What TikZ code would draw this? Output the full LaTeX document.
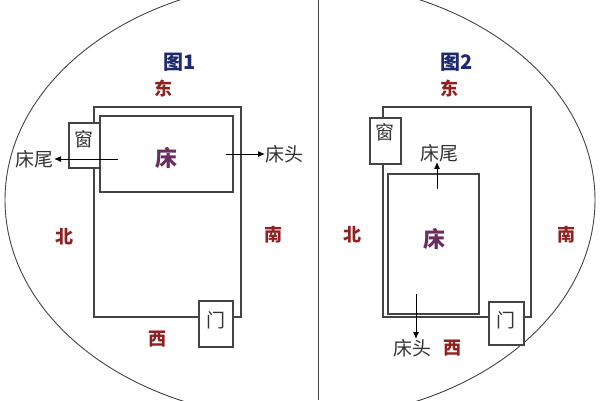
\documentclass[tikz,border=0pt]{standalone}
\usepackage{fontspec}
\newfontfamily\cjk{Noto Sans CJK SC}
\usetikzlibrary{arrows.meta}
\definecolor{dirred}{HTML}{8E2222}
\definecolor{titleblue}{HTML}{1E2A6E}
\definecolor{bedpurple}{HTML}{6A2E5E}
\definecolor{wallgray}{HTML}{444444}
\definecolor{txtgray}{HTML}{333333}
\tikzset{
  wall/.style={draw=wallgray, line width=1.5pt},
  boxw/.style={draw=wallgray, line width=1.5pt, fill=white},
  lbl/.style={inner sep=0pt, text=txtgray, font=\cjk\fontsize{19}{19}\selectfont},
  dirlbl/.style={inner sep=0pt, text=dirred, font=\cjk\bfseries\fontsize{18}{18}\selectfont},
  title/.style={inner sep=0pt, text=titleblue, font=\cjk\bfseries\fontsize{20}{20}\selectfont},
  bedlbl/.style={inner sep=0pt, text=bedpurple, font=\cjk\bfseries\fontsize{22}{22}\selectfont},
  arr/.style={draw=black, line width=1pt, -{Latex[length=7pt,width=6pt]}},
}
\begin{document}
\begin{tikzpicture}[x=1pt,y=-1pt]
\useasboundingbox (0,0) rectangle (600,400);
\fill[white] (0,0) rectangle (600,400);
% outer ellipse and divider
\draw[draw=wallgray, line width=0.9pt] (300,200) ellipse [x radius=295, y radius=219];
\draw[draw=wallgray, line width=0.9pt] (318,0) -- (318,400);

% ===== Figure 1 =====
\draw[wall] (94,107) rectangle (241,317);
\draw[boxw] (100,116) rectangle (233,192);
\draw[boxw] (69,123) rectangle (100,168);
\draw[boxw] (199,301) rectangle (233,347);
\node[lbl] (win1) at (84,139) {窗};
\node[lbl] (door1) at (216,320) {门};
\node[bedlbl] (bed1) at (166,158) {床};
\node[title] (t1) at (180,62) {图1};
\node[dirlbl] (e1) at (163,88) {东};
\node[dirlbl] (n1) at (64,237) {北};
\node[dirlbl] (s1) at (273,235) {南};
\node[dirlbl] (w1) at (157,339) {西};
\node[lbl, anchor=east] (tail1) at (54,159) {床尾};
\node[lbl, anchor=west] (head1) at (265,154) {床头};
\coordinate (a1s) at (118,159);
\coordinate (a2s) at (226,154);
\draw[arr] (a1s) -- (tail1.east);
\draw[arr] (a2s) -- (head1.west);

% ===== Figure 2 =====
\draw[wall] (383,107) rectangle (531,317);
\draw[boxw] (388,174) rectangle (479,314);
\draw[boxw] (370,118) rectangle (401,164);
\draw[boxw] (489,302) rectangle (524,345);
\node[lbl] (win2) at (385,132) {窗};
\node[lbl] (door2) at (506,320) {门};
\node[bedlbl] (bed2) at (434,239) {床};
\node[title] (t2) at (457,62) {图2};
\node[dirlbl] (e2) at (449,88) {东};
\node[dirlbl] (n2) at (352,235) {北};
\node[dirlbl] (s2) at (566,235) {南};
\node[dirlbl] (w2) at (452,348) {西};
\node[lbl] (tail2) at (439,153) {床尾};
\node[lbl] (head2) at (412,348) {床头};
\coordinate (a3s) at (437,189);
\coordinate (a4s) at (416,294);
\draw[arr] (a3s) -- (tail2.south -| a3s);
\draw[arr] (a4s) -- (a4s |- head2.north);
\end{tikzpicture}
\end{document}
